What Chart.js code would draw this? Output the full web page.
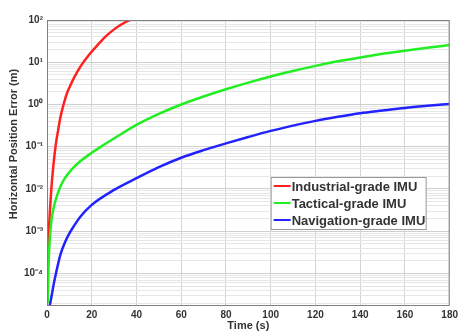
<!DOCTYPE html>
<html>
<head>
<meta charset="utf-8">
<script src="https://cdn.jsdelivr.net/npm/chart.js@4.4.0/dist/chart.umd.min.js"></script>
<style>
  html, body { margin: 0; padding: 0; background: #fff; }
</style>
</head>
<body>
<canvas id="errorChart" width="461" height="335"></canvas>
<script>
// Series labels and colours
const seriesNames = ['Industrial-grade IMU', 'Tactical-grade IMU', 'Navigation-grade IMU'];
const seriesColors = ['#ff2020', '#22ee22', '#2222ff'];

// Industrial-grade
const timeIndustrial = [0.4, 0.6, 1, 1.33, 2, 2.8, 4, 5, 6, 7.4, 9, 10, 12, 15, 19, 22, 26.5, 30, 33, 37, 40];
const errIndustrial = [1.5e-4, 3.6e-4, 1.5e-3, 3.2e-3, 0.011, 0.034, 0.12, 0.25, 0.5, 1.0, 1.9, 2.5, 4.2, 8, 15.5, 23.5, 42, 60, 77, 100, 120];

// Tactical-grade
const timeTactical = [0.3, 0.7, 1.2, 2, 3, 4, 6, 8, 10, 12, 15, 20, 25, 30, 40, 50, 60, 70, 80, 90, 100, 110, 120, 130, 140, 150, 160, 170, 180];
const errTactical = [2e-5, 1.6e-4, 6e-4, 1.8e-3, 3.6e-3, 5.8e-3, 0.0115, 0.018, 0.025, 0.033, 0.046, 0.072, 0.108, 0.158, 0.33, 0.6, 1.0, 1.55, 2.3, 3.3, 4.6, 6.2, 8.2, 10.5, 13, 15.8, 18.8, 22, 25.5];

// Navigation-grade
const timeNavigation = [1.2, 2, 3, 4, 6, 8, 10, 12, 15, 20, 30, 40, 50, 60, 70, 80, 90, 100, 110, 120, 130, 140, 150, 160, 170, 180];
const errNavigation = [1.75e-5, 2.8e-5, 5.6e-5, 1e-4, 2.8e-4, 5.4e-4, 8.9e-4, 1.32e-3, 2.24e-3, 4.2e-3, 9.5e-3, 0.018, 0.033, 0.055, 0.083, 0.12, 0.17, 0.237, 0.316, 0.41, 0.51, 0.62, 0.72, 0.83, 0.93, 1.03];

// Axis ticks and limits
const xTicks = [0, 20, 40, 60, 80, 100, 120, 140, 160, 180];
const yMin = 1.7e-5;
const yMax = 1e2;
const yDecades = [-5, -4, -3, -2, -1, 0, 1, 2];
const yDecadeLabels = ['', '10\u207B\u2074', '10\u207B\u00B3', '10\u207B\u00B2', '10\u207B\u00B9', '10\u2070', '10\u00B9', '10\u00B2'];

function puntos(ts, vs) {
    return ts.map((t, i) => ({ x: t, y: vs[i] }));
}

const serieData = [
    puntos(timeIndustrial, errIndustrial),
    puntos(timeTactical, errTactical),
    puntos(timeNavigation, errNavigation)
];

const fuente = 'Liberation Sans, Arial, sans-serif';

// box around the plot, y title and the legend inside the axes
const extras = {
    id: 'extras',
    afterDraw(chart) {
        const ctx = chart.ctx;
        const a = chart.chartArea;
        ctx.save();
        ctx.strokeStyle = '#808080';
        ctx.lineWidth = 1;
        ctx.strokeRect(a.left + 0.5, a.top + 0.5, a.right - a.left - 1, a.bottom - a.top - 1);

        // y title
        ctx.fillStyle = '#333';
        ctx.font = 'bold 11px ' + fuente;
        ctx.textAlign = 'center';
        ctx.textBaseline = 'middle';
        ctx.translate(14, a.top + 124);
        ctx.rotate(-Math.PI / 2);
        ctx.fillText('Horizontal Position Error (m)', 0, 0);
        ctx.restore();

        // legend
        ctx.save();
        const bx = a.right - 179, by = a.top + 157, bw = 155, bh = 52;
        ctx.fillStyle = '#fff';
        ctx.fillRect(bx, by, bw, bh);
        ctx.strokeStyle = '#999';
        ctx.strokeRect(bx + 0.5, by + 0.5, bw, bh);
        ctx.font = 'bold 13px ' + fuente;
        ctx.textBaseline = 'middle';
        ctx.textAlign = 'left';
        chart.data.datasets.forEach((ds, i) => {
            const y = by + 9 + i * 17;
            ctx.strokeStyle = ds.borderColor;
            ctx.lineWidth = 2;
            ctx.beginPath();
            ctx.moveTo(bx + 3, y);
            ctx.lineTo(bx + 20, y);
            ctx.stroke();
            ctx.fillStyle = '#333';
            ctx.fillText(ds.label, bx + 21, y + 1);
        });
        ctx.restore();
    }
};

new Chart(document.getElementById('errorChart'), {
    type: 'line',
    data: {
        datasets: seriesNames.map((name, i) => ({
            label: name,
            data: serieData[i],
            borderColor: seriesColors[i],
            backgroundColor: seriesColors[i],
            borderWidth: 2.5,
            pointRadius: 0,
            cubicInterpolationMode: 'monotone',
            order: 2 - i
        }))
    },
    options: {
        responsive: false,
        animation: false,
        events: [],
        layout: { autoPadding: false, padding: { left: 0, right: 9, top: 20, bottom: 0 } },
        plugins: { legend: { display: false }, tooltip: { enabled: false } },
        scales: {
            x: {
                type: 'linear',
                min: 0,
                max: 180,
                afterFit(scale) { scale.height = 29; },
                afterBuildTicks(scale) { scale.ticks = xTicks.map(v => ({ value: v })); },
                grid: { color: '#d4d4d4', tickLength: 0 },
                border: { display: false },
                ticks: {
                    padding: 3,
                    maxRotation: 0,
                    color: '#333',
                    font: { family: fuente, size: 10, weight: 'bold' }
                },
                title: {
                    display: true,
                    text: 'Time (s)',
                    color: '#333',
                    font: { family: fuente, size: 11, weight: 'bold' },
                    padding: { top: 0, bottom: 2 }
                }
            },
            y: {
                type: 'logarithmic',
                min: yMin,
                max: yMax,
                afterFit(scale) { scale.width = 47; },
                afterBuildTicks(scale) {
                    const ticks = [];
                    yDecades.forEach((e, k) => {
                        for (let m = 1; m <= 9; m++) {
                            const v = m * Math.pow(10, e);
                            if (v < yMin * 0.999 || v > yMax * 1.001) continue;
                            ticks.push({ value: v, major: m === 1, lab: m === 1 ? yDecadeLabels[k] : '' });
                        }
                    });
                    scale.ticks = ticks;
                },
                grid: {
                    tickLength: 0,
                    color: ctx => (ctx.tick && ctx.tick.major) ? '#cfcfcf' : '#e6e6e6'
                },
                border: { display: false },
                ticks: {
                    padding: 4,
                    autoSkip: false,
                    color: '#333',
                    font: { family: fuente, size: 10, weight: 'bold' },
                    callback: function (value, index, ticks) { return ticks[index].lab; }
                }
            }
        }
    },
    plugins: [extras]
});
</script>
</body>
</html>
